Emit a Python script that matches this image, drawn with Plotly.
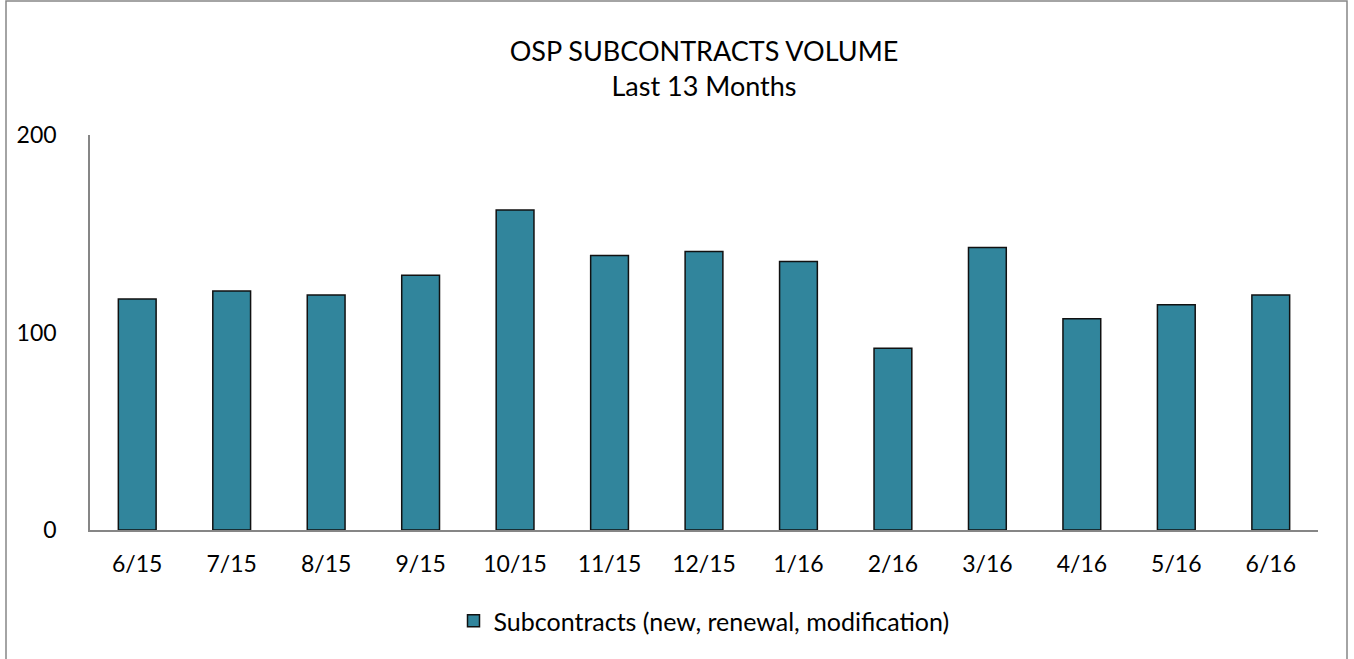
import plotly.graph_objects as go

# Data
months = ['6/15', '7/15', '8/15', '9/15', '10/15', '11/15', '12/15',
          '1/16', '2/16', '3/16', '4/16', '5/16', '6/16']
subcontracts = [117, 121, 119, 129, 162, 139, 141, 136, 92, 143, 107, 114, 119]
series_name = 'Subcontracts (new, renewal, modification)'

font_family = 'Lato, Open Sans, sans-serif'

fig = go.Figure()
fig.add_trace(go.Bar(
    x=months,
    y=subcontracts,
    name=series_name,
    marker=dict(color='#31859C', line=dict(color='#111111', width=1.5)),
    showlegend=True,
))

# Plot area in pixels: x 90..1318, y 135..530
fig.update_layout(
    width=1354, height=659,
    margin=dict(l=90, r=36, t=135, b=129),
    paper_bgcolor='white', plot_bgcolor='white',
    font=dict(family=font_family, size=23, color='#000000'),
    title=dict(
        text='OSP SUBCONTRACTS VOLUME<br>Last 13 Months',
        x=0.5, xanchor='center', xref='paper',
        y=1 - 61 / 659, yanchor='middle', yref='container',
        font=dict(size=27, family=font_family),
    ),
    bargap=0.6,
    showlegend=True,
    legend=dict(
        orientation='h', x=0.5, xanchor='center',
        y=(530 - 621) / 395, yanchor='middle',
        bgcolor='rgba(0,0,0,0)',
        font=dict(size=25, family=font_family),
    ),
    xaxis=dict(
        showgrid=False, zeroline=False, showline=True,
        linecolor='#868686', linewidth=2, ticks='',
        ticklabelstandoff=12,
    ),
    yaxis=dict(
        range=[0, 200], tickvals=[0, 100, 200],
        showgrid=False, zeroline=False, showline=True,
        linecolor='#868686', linewidth=1.5, ticks='',
        ticklabelstandoff=27,
    ),
)

# Outer chart frame
fig.add_shape(
    type='rect', xref='paper', yref='paper',
    x0=(6 - 90) / 1228, x1=(1347 - 90) / 1228,
    y0=(530 - 662) / 395, y1=(530 - 1) / 395,
    line=dict(color='#868686', width=1.5), fillcolor='rgba(0,0,0,0)',
    layer='below',
)

fig.write_html('out.html', config={'displayModeBar': False},
               post_script="document.body.style.margin='0';")
